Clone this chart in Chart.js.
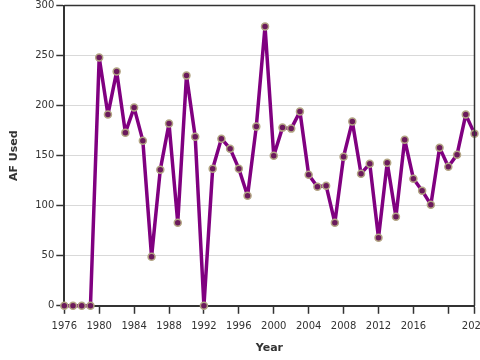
<!DOCTYPE html>
<html>
<head>
<meta charset="utf-8">
<script src="https://cdn.jsdelivr.net/npm/chart.js@4/dist/chart.umd.min.js"></script>
<style>
  html, body { margin: 0; padding: 0; background: #fff; overflow: hidden; }
  #wrap { width: 480px; height: 360px; }
</style>
</head>
<body>
<div id="wrap"><canvas id="myChart"></canvas></div>
<script>
var years = [];
for (var y = 1976; y <= 2023; y++) years.push(y);

var afUsed = [0, 0, 0, 0, 248, 191, 234, 173, 198, 165,
              49, 136, 182, 83, 230, 169, 0, 137, 167, 157,
              137, 110, 179, 279, 150, 178, 177, 194, 131, 119,
              120, 83, 149, 184, 132, 142, 68, 143, 89, 166,
              127, 115, 101, 158, 139, 151, 191, 172];

var xTickValues = [1976, 1980, 1984, 1988, 1992, 1996, 2000, 2004, 2008, 2012, 2016, 2020, 2023];
var xTickLabels = ['1976', '1980', '1984', '1988', '1992', '1996', '2000', '2004', '2008', '2012', '2016', '', '2023'];

// thin frame on top and right of the plot
var frame = {
  id: 'frame',
  afterDraw: function(chart) {
    var a = chart.chartArea, c = chart.ctx;
    c.save();
    c.strokeStyle = '#333';
    c.lineWidth = 1.5;
    c.beginPath();
    c.moveTo(a.left, a.top);
    c.lineTo(a.right, a.top);
    c.lineTo(a.right, a.bottom);
    c.stroke();
    c.restore();
  }
};

Chart.defaults.font.family = '"DejaVu Sans", Verdana, sans-serif';
Chart.defaults.font.size = 10;
Chart.defaults.color = '#333';

var ctx = document.getElementById('myChart').getContext('2d');
var myChart = new Chart(ctx, {
  type: 'line',
  data: {
    datasets: [{
      label: 'AF Used',
      data: years.map(function(yr, i) { return { x: yr, y: afUsed[i] }; }),
      borderColor: '#800080',
      borderWidth: 3.5,
      borderJoinStyle: 'round',
      borderCapStyle: 'round',
      pointRadius: 3.5,
      pointBackgroundColor: '#6b1a5c',
      pointBorderColor: '#b3a584',
      pointBorderWidth: 1.5,
      tension: 0,
      clip: false
    }]
  },
  options: {
    responsive: true,
    maintainAspectRatio: false,
    animation: false,
    layout: { padding: { top: 0, right: 5, left: 8, bottom: 5 } },
    plugins: {
      legend: { display: false },
      tooltip: { enabled: false }
    },
    scales: {
      x: {
        type: 'linear',
        min: 1976,
        max: 2023,
        afterBuildTicks: function(scale) {
          scale.ticks = xTickValues.map(function(v) { return { value: v }; });
        },
        afterFit: function(scale) { scale.paddingRight = 0; },
        ticks: {
          autoSkip: false,
          maxRotation: 0,
          padding: 7,
          callback: function(value) {
            var i = xTickValues.indexOf(value);
            return i >= 0 ? xTickLabels[i] : '';
          }
        },
        grid: { drawOnChartArea: false, tickColor: '#333', tickLength: 8, tickWidth: 1.5 },
        border: { color: '#333', width: 2 },
        title: { display: true, text: 'Year', font: { weight: 'bold', size: 11 }, padding: { top: 2, bottom: 0 } }
      },
      y: {
        min: 0,
        max: 300,
        ticks: { stepSize: 50, padding: 2 },
        afterFit: function(scale) { scale.paddingTop = 5; },
        grid: { color: '#d9d9d9', tickColor: '#333', tickLength: 8, tickWidth: 1.5 },
        border: { color: '#333', width: 2 },
        title: { display: true, text: 'AF Used', font: { weight: 'bold', size: 11 }, padding: { top: 0, bottom: 12 } }
      }
    }
  },
  plugins: [frame]
});
</script>
</body>
</html>
